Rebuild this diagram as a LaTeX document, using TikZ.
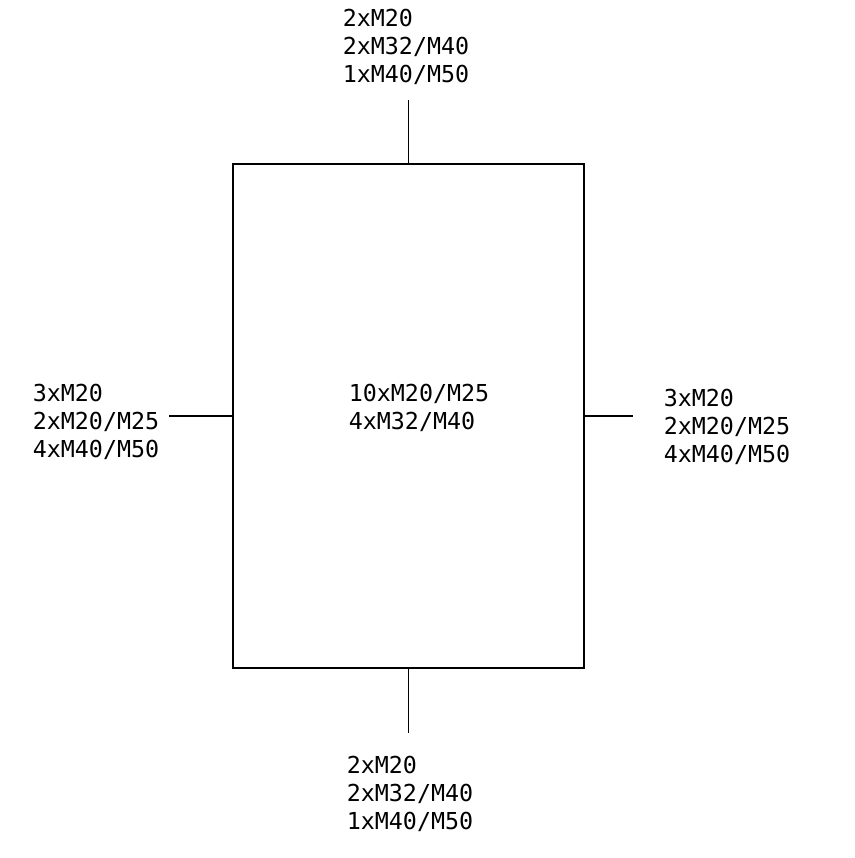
\documentclass[tikz,border=0pt]{standalone}
\usepackage{fontspec}
\newfontfamily\cadfont{DejaVu Sans Mono}
\tikzset{every picture/.style={line width=1.2pt}}
\tikzset{lbl/.style={anchor=north west,inner sep=0pt,align=left,font=\cadfont\fontsize{17.5pt}{21pt}\selectfont}}
\tikzset{housing/.style={draw,minimum width=263.25pt,minimum height=378pt,inner sep=0pt}}

\begin{document}
\begin{tikzpicture}[x=0.75pt,y=0.75pt,yscale=-1,xscale=1]
\useasboundingbox (0,0) rectangle (855,858);

%Shape: Rectangle
\node (box) [housing] at (408.5,416) {};

%Stub end points
\coordinate (topEnd) at (408.5,100);
\coordinate (botEnd) at (408.5,733);
\coordinate (leftEnd) at (169,416);
\coordinate (rightEnd) at (633,416);

%Straight Lines
\draw (box.north) -- (topEnd) ;
\draw (box.south) -- (botEnd) ;
\draw (box.west) -- (leftEnd) ;
\draw (box.east) -- (rightEnd) ;

% Text Node
\node (topLbl) [lbl] at (342,8) {2xM20\\2xM32/M40\\1xM40/M50};
% Text Node
\node (botLbl) [lbl] at (346,755) {2xM20\\2xM32/M40\\1xM40/M50};
% Text Node
\node (leftLbl) [lbl] at (32,383) {3xM20\\2xM20/M25\\4xM40/M50};
% Text Node
\node (rightLbl) [lbl] at (663,388) {3xM20\\2xM20/M25\\4xM40/M50};
% Text Node
\node (midLbl) [lbl] at (348,383) {10xM20/M25\\4xM32/M40};

\end{tikzpicture}
\end{document}
